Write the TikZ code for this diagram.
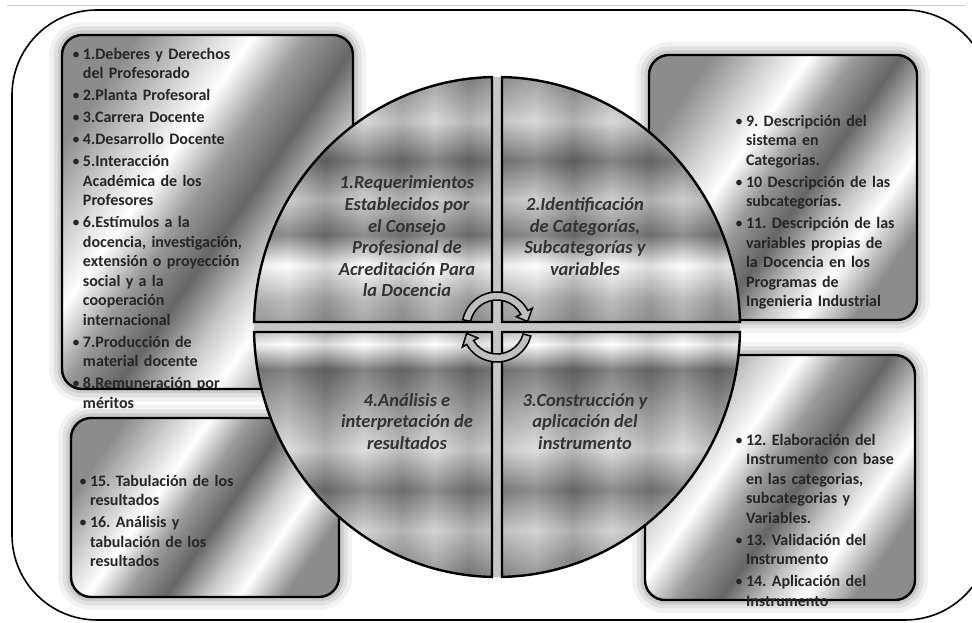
\documentclass[tikz,border=0pt]{standalone}
\usepackage{fontspec}
\setmainfont{Carlito}
\usepackage{enumitem}
\setlist[itemize]{label={\mdseries\textbullet}, leftmargin=9pt, labelsep=3pt,
  itemsep=2.5pt, topsep=0pt, parsep=0pt, partopsep=0pt}
\frenchspacing

\pgfdeclarehorizontalshading{steel}{100bp}{color(0bp)=(black!45); color(25bp)=(black!45);
  color(33bp)=(gray!40); color(40bp)=(white); color(47bp)=(black!40); color(54bp)=(black!60);
  color(61bp)=(gray!45); color(67bp)=(white); color(75bp)=(black!45); color(100bp)=(black!45)}
\pgfdeclareverticalshading{chromeup}{100bp}{color(0bp)=(black!45); color(25bp)=(black!45);
  color(29.5bp)=(gray!70); color(36.6bp)=(white); color(42.8bp)=(black!60); color(50bp)=(gray!50);
  color(58bp)=(black!65); color(66bp)=(gray!40); color(72bp)=(black!40); color(75bp)=(black!50);
  color(100bp)=(black!50)}
\pgfdeclareverticalshading{chromedown}{100bp}{color(0bp)=(black!55); color(25bp)=(black!55);
  color(34.6bp)=(gray!45); color(42.8bp)=(black!60); color(51bp)=(gray!35); color(59bp)=(black!40);
  color(67.4bp)=(black!65); color(72.5bp)=(white); color(75bp)=(gray!50); color(100bp)=(gray!50)}
\pgfdeclarehorizontalshading{streaks}{100bp}{color(0bp)=(gray!60); color(25bp)=(gray!60);
  color(32bp)=(white); color(40bp)=(black!60); color(48bp)=(white); color(56bp)=(black!50);
  color(63bp)=(white); color(70bp)=(black!55); color(75bp)=(gray!50); color(100bp)=(gray!50)}

\begin{document}
\begin{tikzpicture}[x=1pt, y=1pt,
  glow/.style = {preaction={draw=black, opacity=.05, line width=26pt},
    preaction={draw=black, opacity=.07, line width=17pt},
    preaction={draw=black, opacity=.09, line width=9pt}},
  box/.style = {draw, line width=2.4pt, rounded corners=20pt, inner sep=0pt,
    shade, shading=steel, shading angle=-35, glow},
  items/.style = {anchor=north west, inner sep=0pt, text width=#1, align=left,
    text=black!85, font=\bfseries\fontsize{16}{19.5}\selectfont},
  quadtext/.style = {align=center, text=black!80,
    font=\bfseries\itshape\fontsize{18.5}{21.6}\selectfont},
  quad/.style = {preaction={shade, shading=#1}, shade, shading=streaks,
    fill opacity=.25, draw, draw opacity=1, line width=2.4pt},
  cyclearrow/.style = {draw, line width=1.5pt, fill=gray!50}]
  \useasboundingbox (0,0) rectangle (972,623);
  \clip (0,0) rectangle (972,623);
  \fill[white] (0,0) rectangle (972,623);

  \draw[gray!40, line width=0.8pt] (7,618) -- (965,618);
  \draw[line width=1.6pt, rounded corners=85pt] (12,3) rectangle (990,613);

  \node[box, minimum width=291pt, minimum height=354pt] (tlbox) at (207.5,411) {};
  \node[box, minimum width=268pt, minimum height=265pt] (trbox) at (783,435.5) {};
  \node[box, minimum width=268pt, minimum height=179pt] (blbox) at (205,115.5) {};
  \node[box, minimum width=270pt, minimum height=245pt] (brbox) at (780,145.5) {};

  \node[items=200pt] (profesorado) at ([shift={(13,-6)}]tlbox.north west) {%
    \begin{itemize}
      \item 1.Deberes y Derechos\\ del Profesorado
      \item 2.Planta Profesoral
      \item 3.Carrera Docente
      \item 4.Desarrollo Docente
      \item 5.Interacción\\ Académica de los\\ Profesores
      \item 6.Estímulos a la\\ docencia, investigación,\\ extensión o proyección\\ social y a la\\ cooperación\\ internacional
      \item 7.Producción de\\ material docente
      \item 8.Remuneración por\\ méritos
    \end{itemize}};
  \node[items=175pt] (categorias) at ([shift={(89,-53)}]trbox.north west) {%
    \begin{itemize}
      \item 9. Descripción del\\ sistema en\\ Categorias.
      \item 10 Descripción de las\\ subcategorías.
      \item 11. Descripción de las\\ variables propias de\\ la Docencia en los\\ Programas de\\ Ingenieria Industrial
    \end{itemize}};
  \node[items=175pt] (resultados) at ([shift={(11,-50)}]blbox.north west) {%
    \begin{itemize}
      \item 15. Tabulación de los\\ resultados
      \item 16. Análisis y\\ tabulación de los\\ resultados
    \end{itemize}};
  \node[items=175pt] (instrumento) at ([shift={(93,-72)}]brbox.north west) {%
    \begin{itemize}
      \item 12. Elaboración del\\ Instrumento con base\\ en las categorias,\\ subcategorias y\\ Variables.
      \item 13. Validación del\\ Instrumento
      \item 14. Aplicación del\\ Instrumento
    \end{itemize}};

  \coordinate (mid) at (497,296);
  \fill[gray!45] (mid) ellipse[x radius=243pt, y radius=250pt];
  \path[quad=chromeup] (254.05,301) arc[start angle=178.85, end angle=91.18,
    x radius=243pt, y radius=250pt] -- (492,301) -- cycle;
  \path[quad=chromeup] (502,301) -- (502,545.95) arc[start angle=88.82, end angle=1.15,
    x radius=243pt, y radius=250pt] -- cycle;
  \path[quad=chromedown] (502,291) -- (739.95,291) arc[start angle=-1.15, end angle=-88.82,
    x radius=243pt, y radius=250pt] -- cycle;
  \path[quad=chromedown] (492,291) -- (492,46.05) arc[start angle=-91.18, end angle=-178.85,
    x radius=243pt, y radius=250pt] -- cycle;

  \node[quadtext] (requerimientos) at (407,386.5) {1.Requerimientos\\ Establecidos por\\ el Consejo\\ Profesional de\\ Acreditación Para\\ la Docencia};
  \node[quadtext] (identificacion) at (585,386.5) {2.Identificación\\ de Categorías,\\ Subcategorías y\\ variables};
  \node[quadtext] (construccion) at (585,201.5) {3.Construcción y\\ aplicación del\\ instrumento};
  \node[quadtext] (analisis) at (407,201.5) {4.Análisis e\\ interpretación de\\ resultados};

  \begin{scope}[shift={(mid)}]
    \path[cyclearrow] (168:35pt) arc[start angle=168, end angle=28, radius=35pt]
      -- (28:40pt) -- (10:31pt) -- (28:22pt) -- (28:27pt)
      arc[start angle=28, end angle=168, radius=27pt] -- cycle;
    \path[cyclearrow] (-15:35pt) arc[start angle=-15, end angle=-150, radius=35pt]
      -- (-150:40pt) -- (-168:31pt) -- (-150:22pt) -- (-150:27pt)
      arc[start angle=-150, end angle=-15, radius=27pt] -- cycle;
  \end{scope}
\end{tikzpicture}
\end{document}
